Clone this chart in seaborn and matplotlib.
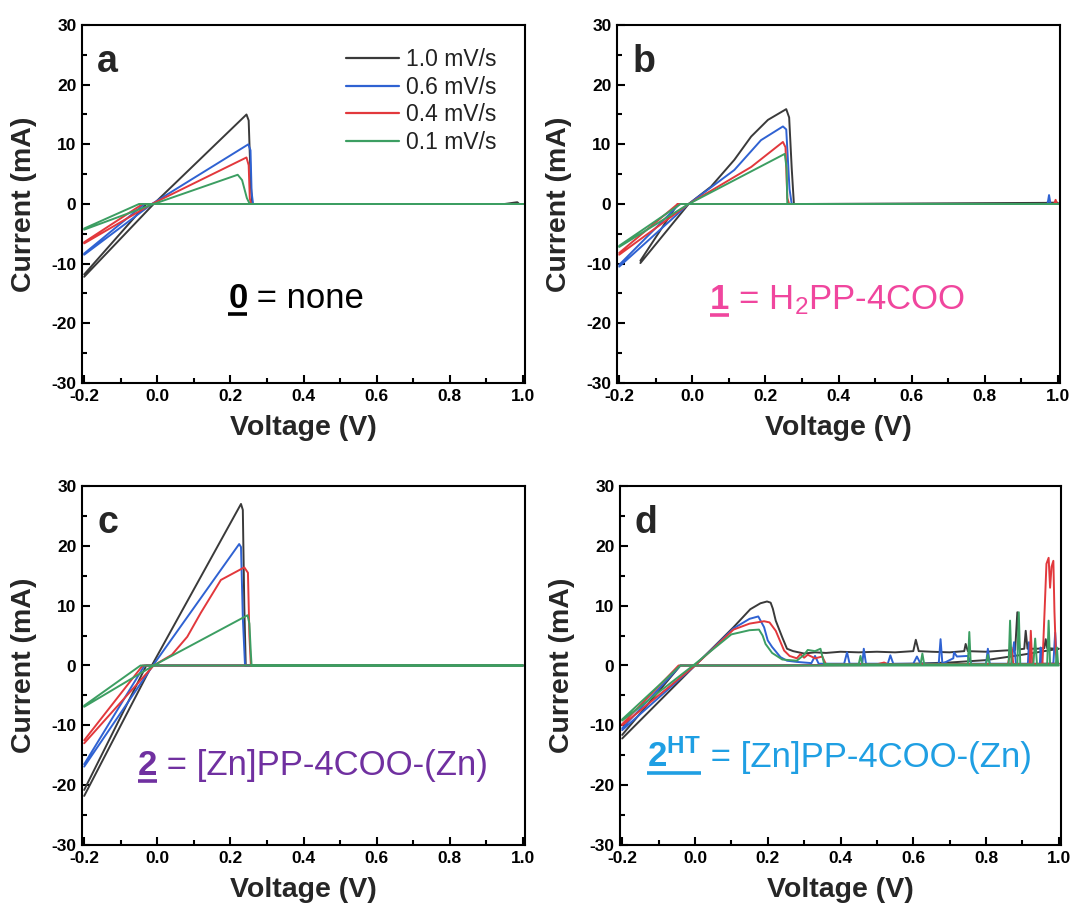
import matplotlib
matplotlib.use("Agg")
import matplotlib.pyplot as plt
import seaborn as sns
import pandas as pd
import numpy as np
from matplotlib.ticker import MultipleLocator

# ---------------- data (vertices) ----------------
rates = ["1.0 mV/s", "0.6 mV/s", "0.4 mV/s", "0.1 mV/s"]
line_colors = ["#3a3a3a", "#2f62d2", "#e2383c", "#3c9e62"]

# panel a : 0 = none
a_v_10 = [-0.2, -0.01, 0.244, 0.250, 0.256, 0.260, 0.95, 0.985, 0.99, 1.0, 0.3, -0.03, -0.2]
a_i_10 = [-12.2, 0.0, 15.0, 14.0, 3.0, 0.0, 0.0, 0.3, 0.0, 0.0, 0.0, 0.0, -11.8]
a_v_06 = [-0.2, -0.015, 0.249, 0.255, 0.258, 0.262, 1.0, 0.3, -0.035, -0.2]
a_i_06 = [-8.5, 0.0, 10.0, 9.0, 2.0, 0.0, 0.0, 0.0, 0.0, -8.3]
a_v_04 = [-0.2, -0.015, 0.244, 0.250, 0.253, 0.256, 1.0, 0.3, -0.04, -0.2]
a_i_04 = [-6.6, 0.0, 7.8, 6.5, 1.0, 0.0, 0.0, 0.0, 0.0, -6.4]
a_v_01 = [-0.2, -0.01, 0.220, 0.232, 0.245, 0.253, 1.0, 0.3, -0.05, -0.2]
a_i_01 = [-4.3, 0.0, 4.9, 4.0, 1.0, 0.0, 0.0, 0.0, 0.0, -4.1]

# panel b : 1 = H2PP-4COO
b_v_10 = [-0.142, -0.01, 0.051, 0.115, 0.161, 0.207, 0.257, 0.265, 0.272, 0.278, 0.96, 0.97, 1.0, 0.3, -0.04, -0.142]
b_i_10 = [-9.9, 0.0, 2.9, 7.4, 11.3, 14.1, 15.9, 14.5, 6.0, 0.0, 0.0, 0.2, 0.2, 0.0, 0.0, -9.5]
b_v_06 = [-0.2, -0.01, 0.115, 0.188, 0.248, 0.257, 0.266, 0.272, 0.972, 0.976, 0.98, 1.0, 0.3, -0.035, -0.2]
b_i_06 = [-10.5, 0.0, 5.7, 10.7, 13.0, 12.5, 2.5, 0.0, 0.0, 1.5, 0.0, 0.0, 0.0, 0.0, -10.2]
b_v_04 = [-0.2, -0.01, 0.161, 0.248, 0.255, 0.260, 0.265, 0.99, 0.994, 0.998, 1.0, 0.3, -0.04, -0.2]
b_i_04 = [-8.5, 0.0, 6.2, 10.4, 9.5, 1.0, 0.0, 0.0, 0.7, 0.0, 0.0, 0.0, 0.0, -8.2]
b_v_01 = [-0.2, -0.01, 0.253, 0.258, 0.260, 1.0, 0.3, -0.032, -0.2]
b_i_01 = [-7.2, 0.0, 8.4, 6.0, 0.0, 0.0, 0.0, 0.0, -7.0]

# panel c : 2 = [Zn]PP-4COO-(Zn)
c_v_10 = [-0.2, -0.015, 0.229, 0.234, 0.238, 0.242, 1.0, 0.3, -0.03, -0.2]
c_i_10 = [-21.8, 0.0, 27.0, 26.0, 10.0, 0.0, 0.0, 0.0, 0.0, -20.8]
c_v_06 = [-0.2, -0.012, 0.224, 0.229, 0.234, 0.240, 1.0, 0.3, -0.035, -0.2]
c_i_06 = [-16.9, 0.0, 20.3, 19.8, 8.0, 0.0, 0.0, 0.0, 0.0, -16.5]
c_v_04 = [-0.2, -0.01, 0.04, 0.082, 0.119, 0.174, 0.238, 0.248, 0.252, 0.256, 1.0, 0.3, -0.04, -0.2]
c_i_04 = [-13.0, 0.0, 1.8, 4.8, 8.8, 14.3, 16.4, 15.5, 5.0, 0.0, 0.0, 0.0, 0.0, -12.5]
c_v_01 = [-0.2, -0.01, 0.247, 0.252, 0.256, 0.258, 1.0, 0.3, -0.046, -0.2]
c_i_01 = [-6.9, 0.0, 8.4, 7.0, 2.0, 0.0, 0.0, 0.0, 0.0, -6.7]

# panel d : 2HT = [Zn]PP-4COO-(Zn)
d_v_10 = [-0.2, 0.0, 0.05, 0.106, 0.152, 0.18, 0.198, 0.208, 0.214, 0.222, 0.24, 0.253, 0.27, 0.3,
          0.33, 0.36, 0.4, 0.45, 0.5, 0.55, 0.6, 0.607, 0.615, 0.65, 0.7, 0.74, 0.744, 0.75, 0.8,
          0.85, 0.88, 0.886, 0.892, 0.905, 0.909, 0.914, 0.94, 0.96, 0.964, 0.968, 0.99, 1.0,
          0.9, 0.8, 0.7, 0.6, 0.45, 0.3, 0.2, -0.04, -0.2]
d_i_10 = [-12.2, 0.0, 3.0, 6.4, 9.4, 10.4, 10.7, 10.5, 9.5, 7.5, 4.7, 2.8, 2.4, 2.0,
          2.2, 2.1, 2.3, 2.2, 2.3, 2.2, 2.4, 4.3, 2.4, 2.3, 2.2, 2.4, 3.6, 2.4, 2.3,
          2.5, 2.6, 8.9, 2.7, 2.8, 5.8, 2.8, 2.8, 2.9, 4.4, 2.9, 2.8, 2.8,
          1.8, 0.9, 0.5, 0.3, 0.15, 0.05, 0.0, 0.0, -11.6]
d_v_06 = [-0.2, 0.0, 0.106, 0.15, 0.174, 0.19, 0.2, 0.212, 0.235, 0.253, 0.28, 0.32, 0.33, 0.34,
          0.41, 0.418, 0.425, 0.46, 0.464, 0.47, 0.53, 0.537, 0.545, 0.6, 0.61, 0.62, 0.67, 0.675,
          0.68, 0.71, 0.712, 0.72, 0.75, 0.76, 0.8, 0.805, 0.81, 0.87, 0.877, 0.882, 0.915, 0.918,
          0.922, 0.948, 0.95, 0.953, 0.985, 0.99, 0.995, 1.0, 0.8, 0.4, 0.2, -0.04, -0.2]
d_i_06 = [-10.8, 0.0, 6.2, 7.8, 8.2, 6.4, 4.2, 3.1, 1.4, 0.8, 0.6, 0.4, 1.6, 0.3,
          0.3, 2.2, 0.3, 0.3, 2.8, 0.3, 0.3, 1.7, 0.3, 0.3, 1.5, 0.3, 0.3, 4.4,
          0.3, 1.2, 2.2, 1.5, 1.6, 0.3, 0.3, 2.8, 0.3, 0.3, 3.9, 0.3, 0.3, 3.9,
          0.3, 0.3, 3.0, 0.3, 0.3, 5.5, 0.3, 0.3, 0.1, 0.05, 0.0, 0.0, -10.5]
d_v_04 = [-0.2, 0.0, 0.106, 0.15, 0.19, 0.205, 0.222, 0.245, 0.26, 0.28, 0.29, 0.3, 0.31, 0.33,
          0.35, 0.36, 0.5, 0.52, 0.53, 0.86, 0.87, 0.875, 0.92, 0.923, 0.927, 0.955, 0.962, 0.966,
          0.972, 0.976, 0.98, 0.985, 0.988, 0.992, 0.996, 1.0, 0.6, 0.2, -0.045, -0.2]
d_i_04 = [-10.0, 0.0, 6.0, 7.0, 7.4, 7.2, 5.8, 2.5, 1.6, 1.2, 1.9, 1.3, 1.8, 1.2,
          1.5, 0.2, 0.2, 0.5, 0.2, 0.2, 3.0, 0.2, 0.2, 5.8, 0.2, 0.2, 10.8, 17.0,
          18.0, 13.0, 16.5, 17.5, 9.0, 2.0, 0.5, 0.3, 0.1, 0.0, 0.0, -9.8]
d_v_01 = [-0.2, -0.005, 0.1, 0.15, 0.176, 0.186, 0.194, 0.212, 0.24, 0.28, 0.3, 0.31, 0.33, 0.345,
          0.355, 0.38, 0.45, 0.455, 0.46, 0.62, 0.625, 0.63, 0.75, 0.754, 0.758, 0.8, 0.805, 0.81,
          0.862, 0.866, 0.87, 0.886, 0.89, 0.894, 0.93, 0.935, 0.94, 0.968, 0.972, 0.976, 0.992,
          0.995, 0.998, 1.0, -0.04, -0.2]
d_i_01 = [-9.2, 0.0, 5.2, 5.9, 6.0, 5.0, 3.6, 2.1, 1.0, 0.8, 1.8, 2.6, 2.4, 2.8,
          0.3, 0.2, 0.2, 1.6, 0.2, 0.2, 2.0, 0.2, 0.2, 5.6, 0.2, 0.2, 1.8, 0.2,
          0.2, 7.5, 0.2, 0.2, 8.9, 0.2, 0.2, 4.5, 0.2, 0.2, 7.5, 0.2, 0.2,
          3.0, 0.2, 0.0, 0.0, -9.0]

panels = {
    "a": [(a_v_10, a_i_10), (a_v_06, a_i_06), (a_v_04, a_i_04), (a_v_01, a_i_01)],
    "b": [(b_v_10, b_i_10), (b_v_06, b_i_06), (b_v_04, b_i_04), (b_v_01, b_i_01)],
    "c": [(c_v_10, c_i_10), (c_v_06, c_i_06), (c_v_04, c_i_04), (c_v_01, c_i_01)],
    "d": [(d_v_10, d_i_10), (d_v_06, d_i_06), (d_v_04, d_i_04), (d_v_01, d_i_01)],
}

x_ticks = [-0.2, 0.0, 0.2, 0.4, 0.6, 0.8, 1.0]
y_ticks = [-30, -20, -10, 0, 10, 20, 30]

# ---------------- style ----------------
sns.set_style("white")
plt.rcParams["font.family"] = ["Liberation Sans", "DejaVu Sans"]
plt.rcParams["mathtext.fontset"] = "custom"
plt.rcParams["mathtext.rm"] = "Liberation Sans"
plt.rcParams["mathtext.bf"] = "Liberation Sans:bold"
plt.rcParams["mathtext.it"] = "Liberation Sans:italic"

W, H = 1073, 905
fig = plt.figure(figsize=(W / 100, H / 100), dpi=100)

# axes boxes in pixels: (left, top, right, bottom)
boxes = {
    "a": (82, 25, 525, 383),
    "b": (617, 25, 1060, 383),
    "c": (82, 486, 525, 845),
    "d": (620, 486, 1061, 845),
}
axes = {}
for key, (l, t, r, b) in boxes.items():
    axes[key] = fig.add_axes([l / W, 1 - b / H, (r - l) / W, (b - t) / H])

for key, ax in axes.items():
    rows = []
    for rate, (vv, ii) in zip(rates, panels[key]):
        for k, (v, i) in enumerate(zip(vv, ii)):
            rows.append({"V": v, "I": i, "rate": rate, "k": k})
    df = pd.DataFrame(rows)
    sns.lineplot(data=df, x="V", y="I", hue="rate", hue_order=rates,
                 palette=line_colors, sort=False, estimator=None, units="rate",
                 lw=1.4, ax=ax, legend=(key == "a"))
    ax.set_xlim(-0.206, 1.006)
    ax.set_ylim(-30, 30)
    ax.set_xticks(x_ticks)
    ax.set_yticks(y_ticks)
    ax.set_xticklabels(["-0.2", "0.0", "0.2", "0.4", "0.6", "0.8", "1.0"])
    ax.set_yticklabels([str(v) for v in y_ticks])
    ax.xaxis.set_minor_locator(MultipleLocator(0.1))
    ax.yaxis.set_minor_locator(MultipleLocator(5))
    ax.tick_params(which="both", direction="in", top=False, right=False,
                   bottom=True, left=True, width=1.5, colors="black")
    ax.tick_params(which="major", length=6, labelsize=12.5, pad=4)
    ax.tick_params(which="minor", length=3.5)
    for lab in ax.get_xticklabels() + ax.get_yticklabels():
        lab.set_fontweight("bold")
    for sp in ax.spines.values():
        sp.set_linewidth(1.5)
        sp.set_color("black")
    ax.set_xlabel("Voltage (V)", fontsize=20.5, fontweight="bold", labelpad=8)
    ax.set_ylabel("Current (mA)", fontsize=20.5, fontweight="bold", labelpad=10)
    ax.text(0.034, 0.869, key, transform=ax.transAxes, fontsize=27,
            fontweight="bold", va="baseline", ha="left")

# legend in panel a
ax = axes["a"]
h, l = ax.get_legend_handles_labels()
leg = ax.legend(h, l, loc="upper right", bbox_to_anchor=(0.935, 0.935), frameon=False,
                fontsize=16.5, handlelength=2.3, handletextpad=0.3,
                labelspacing=0.2, borderaxespad=0.0, borderpad=0.0)
for line in leg.get_lines():
    line.set_linewidth(1.6)
for txt in leg.get_texts():
    txt.set_color("#222222")

# compound labels with underlined bold number
fig.canvas.draw()
renderer = fig.canvas.get_renderer()


def compound(ax, x, y, num, rest, color):
    t = ax.text(x, y, num, transform=ax.transAxes, fontsize=25, fontweight="bold",
                color=color, va="baseline", ha="left")
    bb = t.get_window_extent(renderer=renderer)
    inv = ax.transAxes.inverted()
    x1 = inv.transform((bb.x1, 0))[0]
    ax.text(x1, y, rest, transform=ax.transAxes, fontsize=25, color=color,
            va="baseline", ha="left")
    base_disp = ax.transAxes.transform((x, y))[1]
    uy = inv.transform((0, base_disp - 6))[1]
    x0 = inv.transform((bb.x0, 0))[0]
    ax.plot([x0, x1], [uy, uy], transform=ax.transAxes, color=color, lw=2.6,
            clip_on=False, solid_capstyle="butt")


compound(axes["a"], 0.33, 0.21, "0", " = none", "black")
compound(axes["b"], 0.21, 0.207, "1", r" = H$_2$PP-4COO", "#f0469e")
compound(axes["c"], 0.126, 0.195, "2", " = [Zn]PP-4COO-(Zn)", "#7030a0")
compound(axes["d"], 0.061, 0.217, r"$\mathbf{2}^{\mathbf{HT}}$", " = [Zn]PP-4COO-(Zn)", "#1f9fe3")

fig.savefig("out.png", dpi=100)
